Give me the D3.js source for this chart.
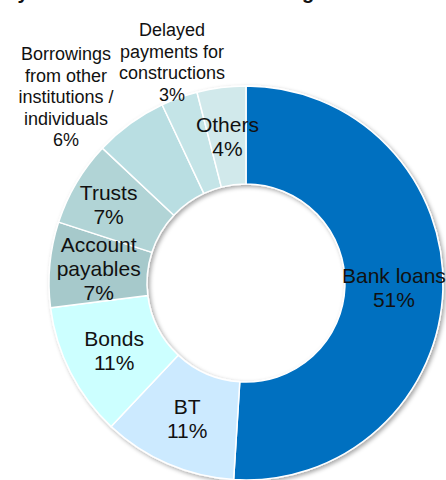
<!DOCTYPE html>
<html>
<head>
<meta charset="utf-8">
<script src="https://cdn.jsdelivr.net/npm/d3@7/dist/d3.min.js"></script>
<style>
  html, body { margin: 0; padding: 0; background: #fff; }
  svg { display: block; }
  text { font-family: "Liberation Sans", Arial, Helvetica, sans-serif; fill: #111; }
</style>
</head>
<body>
<svg id="chart" width="446" height="480"></svg>
<script>
// Funding mix, share of total (%)
const categories = [
  "Bank loans", "BT", "Bonds", "Account payables", "Trusts",
  "Borrowings from other institutions / individuals",
  "Delayed payments for constructions", "Others"
];
const shares = [51, 11, 11, 7, 7, 6, 3, 4];
const labelLines = [
  ["Bank loans"], ["BT"], ["Bonds"], ["Account", "payables"], ["Trusts"],
  ["Borrowings", "from other", "institutions /", "individuals"],
  ["Delayed", "payments for", "constructions"], ["Others"]
];
const sliceColors = [
  "#0070c0", "#cceaff", "#ccffff", "#a6c9cb", "#b1d4d6",
  "#b9dee2", "#c4e4e7", "#d1e9eb"
];
const titleText = "Key sources of onshore financing";

const width = 446, height = 480;
const cx = 246, cy = 283;
const outerR = 197, innerR = 99;

const svg = d3.select("#chart");

// Heading sits above the frame; only its descenders reach into view
svg.append("text")
  .attr("x", -8).attr("y", -0.8)
  .style("font-size", "20px").style("font-weight", "bold")
  .text(titleText);

const defs = svg.append("defs");
const f = defs.append("filter").attr("id", "ringShadow")
  .attr("x", "-10%").attr("y", "-10%").attr("width", "120%").attr("height", "120%");
f.append("feDropShadow").attr("dx", 2).attr("dy", 2)
  .attr("stdDeviation", 2).attr("flood-color", "#000").attr("flood-opacity", 0.35);

const pie = d3.pie().sort(null).value(d => d.value)
  .startAngle(0).endAngle(2 * Math.PI);
const rows = categories.map((c, i) => ({ name: c, value: shares[i], lines: labelLines[i], color: sliceColors[i] }));
const arcs = pie(rows);

const arc = d3.arc().innerRadius(innerR).outerRadius(outerR);
const labelArc = d3.arc().innerRadius((innerR + outerR) / 2).outerRadius((innerR + outerR) / 2);

const g = svg.append("g").attr("transform", `translate(${cx},${cy})`);

g.append("g").attr("filter", "url(#ringShadow)")
  .selectAll("path").data(arcs).join("path")
  .attr("d", arc)
  .attr("fill", d => d.data.color)
  .attr("stroke", "#fff")
  .attr("stroke-width", 1.5)
  .attr("stroke-linejoin", "round");

// Labels inside the ring: centred on the slice centroid
const innerNudge = { "Trusts": [-10, -3] };
// Small slices are labelled above the ring (offsets from the ring centre, first baseline)
const outsideAnchor = {
  "Borrowings from other institutions / individuals": [-180, -223],
  "Delayed payments for constructions": [-74, -247]
};

arcs.forEach(d => {
  const lines = d.data.lines.concat([d.data.value + "%"]);
  const out = outsideAnchor[d.data.name];
  let x, y0, lh, fs;
  if (out) {
    fs = 18; lh = 21.5;
    x = out[0]; y0 = out[1];
  } else {
    fs = 21; lh = 24;
    const [px, py] = labelArc.centroid(d);
    const nud = innerNudge[d.data.name] || [0, 0];
    x = px + nud[0];
    y0 = py + nud[1] - (lines.length - 1) * lh / 2 + fs * 0.35;
  }
  const t = g.append("text")
    .attr("text-anchor", "middle")
    .style("font-size", fs + "px");
  lines.forEach((ln, k) => {
    t.append("tspan").attr("x", x).attr("y", y0 + k * lh).text(ln);
  });
});
</script>
</body>
</html>
